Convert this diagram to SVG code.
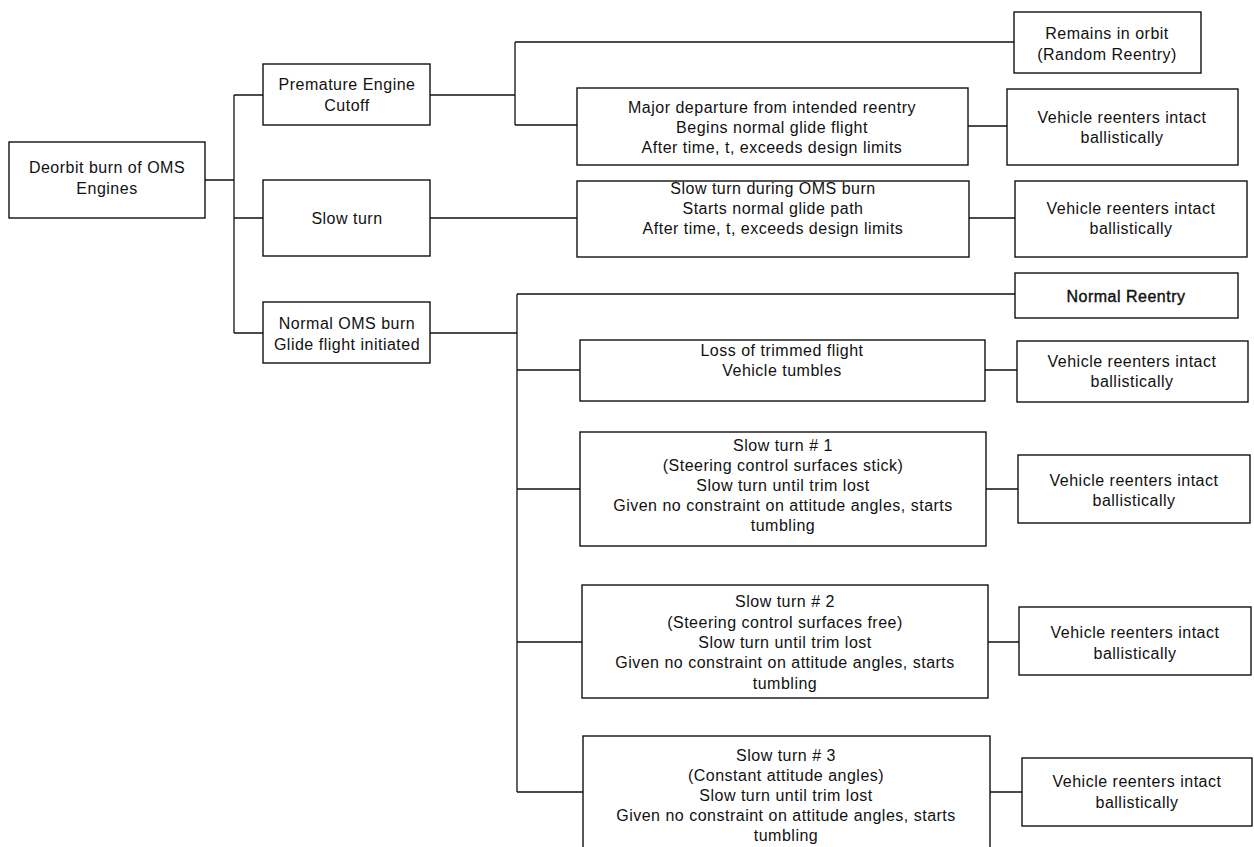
<svg xmlns="http://www.w3.org/2000/svg" width="1254" height="847" viewBox="0 0 1254 847">
<style>
.b{fill:#fff;stroke:#111;stroke-width:1.4}
.c{fill:none;stroke:#111;stroke-width:1.3}
text{font-family:"Liberation Sans",Arial,sans-serif;font-size:16px;letter-spacing:0.5px;fill:#111;text-anchor:middle}
.bold{stroke:#111;stroke-width:0.4}
</style>
<rect width="1254" height="847" fill="#fff"/>
<g id="connectors">
<path class="c" d="M205,180H234M234,95V333M234,95H263M234,218H263M234,333H263"/>
<path class="c" d="M430,95H515M515,42V125M515,42H1014M515,125H577M968,126H1007"/>
<path class="c" d="M430,218H577M969,218H1015"/>
<path class="c" d="M430,333H517M517,294V792M517,294H1015M517,370H580M985,370H1017M517,489H580M986,489H1018M517,642H582M988,642H1019M517,792H583M990,792H1022"/>
</g>
<g id="deorbit"><rect class="b" x="9" y="142" width="196" height="76"/><text x="107" y="173">Deorbit burn of OMS</text><text x="107" y="194">Engines</text></g>
<g id="premature"><rect class="b" x="263" y="64" width="167" height="61"/><text x="347" y="90">Premature Engine</text><text x="347" y="111">Cutoff</text></g>
<g id="slowturn"><rect class="b" x="263" y="180" width="167" height="76"/><text x="347" y="224">Slow turn</text></g>
<g id="normaloms"><rect class="b" x="263" y="302" width="167" height="61"/><text x="347" y="329">Normal OMS burn</text><text x="347" y="350">Glide flight initiated</text></g>
<g id="remains"><rect class="b" x="1014" y="12" width="187" height="61"/><text x="1107" y="39">Remains in orbit</text><text x="1107" y="60">(Random Reentry)</text></g>
<g id="major"><rect class="b" x="577" y="88" width="391" height="77"/><text x="772" y="113">Major departure from intended reentry</text><text x="772" y="133">Begins normal glide flight</text><text x="772" y="153">After time, t, exceeds design limits</text></g>
<g id="veh1"><rect class="b" x="1007" y="89" width="231" height="76"/><text x="1122" y="123">Vehicle reenters intact</text><text x="1122" y="143">ballistically</text></g>
<g id="slowoms"><rect class="b" x="577" y="181" width="392" height="76"/><text x="773" y="194">Slow turn during OMS burn</text><text x="773" y="214">Starts normal glide path</text><text x="773" y="234">After time, t, exceeds design limits</text></g>
<g id="veh2"><rect class="b" x="1015" y="181" width="232" height="76"/><text x="1131" y="214">Vehicle reenters intact</text><text x="1131" y="234">ballistically</text></g>
<g id="normalreentry"><rect class="b" x="1015" y="273" width="223" height="45"/><text class="bold" x="1126" y="302">Normal Reentry</text></g>
<g id="loss"><rect class="b" x="580" y="340" width="405" height="61"/><text x="782" y="356">Loss of trimmed flight</text><text x="782" y="376">Vehicle tumbles</text></g>
<g id="veh3"><rect class="b" x="1017" y="341" width="231" height="61"/><text x="1132" y="367">Vehicle reenters intact</text><text x="1132" y="387">ballistically</text></g>
<g id="slow1"><rect class="b" x="580" y="432" width="406" height="114"/><text x="783" y="451">Slow turn # 1</text><text x="783" y="471">(Steering control surfaces stick)</text><text x="783" y="491">Slow turn until trim lost</text><text x="783" y="511">Given no constraint on attitude angles, starts</text><text x="783" y="531">tumbling</text></g>
<g id="veh4"><rect class="b" x="1018" y="455" width="232" height="68"/><text x="1134" y="486">Vehicle reenters intact</text><text x="1134" y="506">ballistically</text></g>
<g id="slow2"><rect class="b" x="582" y="585" width="406" height="113"/><text x="785" y="607">Slow turn # 2</text><text x="785" y="628">(Steering control surfaces free)</text><text x="785" y="648">Slow turn until trim lost</text><text x="785" y="668">Given no constraint on attitude angles, starts</text><text x="785" y="689">tumbling</text></g>
<g id="veh5"><rect class="b" x="1019" y="607" width="232" height="68"/><text x="1135" y="638">Vehicle reenters intact</text><text x="1135" y="659">ballistically</text></g>
<g id="slow3"><rect class="b" x="583" y="736" width="407" height="120"/><text x="786" y="761">Slow turn # 3</text><text x="786" y="781">(Constant attitude angles)</text><text x="786" y="801">Slow turn until trim lost</text><text x="786" y="821">Given no constraint on attitude angles, starts</text><text x="786" y="841">tumbling</text></g>
<g id="veh6"><rect class="b" x="1022" y="758" width="230" height="68"/><text x="1137" y="787">Vehicle reenters intact</text><text x="1137" y="808">ballistically</text></g>
</svg>
